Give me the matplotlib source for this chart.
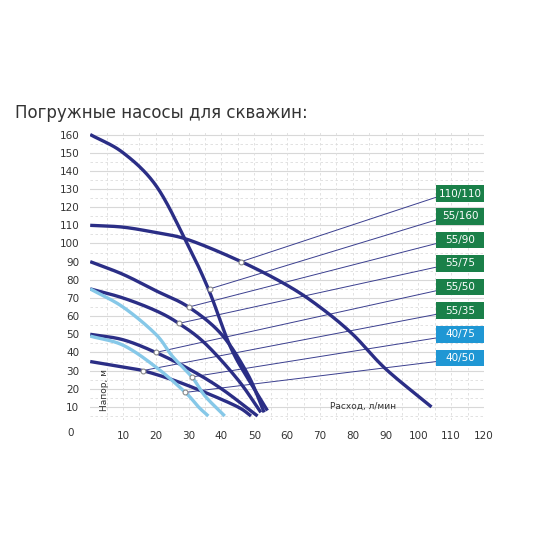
import numpy as np
import matplotlib.pyplot as plt
from matplotlib.patches import Rectangle

# pump curves: flow (l/min) -> head (m)
models = ["110/110", "55/160", "55/90", "55/75", "55/50", "55/35", "40/75", "40/50"]
flows = {
    "110/110": [0, 10, 20, 30, 46, 60, 70, 80, 90, 104],
    "55/160": [0, 10, 20, 29, 36, 43, 50, 54],
    "55/90": [0, 10, 20, 30, 40, 48, 53],
    "55/75": [0, 10, 20, 27, 35, 45, 52],
    "55/50": [0, 10, 20, 30, 40, 51],
    "55/35": [0, 10, 16, 25, 35, 45, 49],
    "40/75": [0, 10, 20, 25, 31, 35, 41],
    "40/50": [0, 10, 20, 29, 33, 36],
}
heads = {
    "110/110": [110, 109, 106, 102, 90, 77, 65, 50, 31, 10],
    "55/160": [160, 150, 132, 102, 75, 42, 20, 8],
    "55/90": [90, 83, 74, 65, 50, 28, 7],
    "55/75": [75, 70, 63, 56, 45, 25, 7],
    "55/50": [50, 47, 40, 31, 20, 5],
    "55/35": [35, 32, 30, 25, 18, 10, 5],
    "40/75": [75, 65, 50, 38, 26.5, 16, 5],
    "40/50": [49, 44, 32, 18, 10, 5],
}
# marked point on each curve and label y position
marks = {
    "110/110": (46, 90), "55/160": (36.4, 75), "55/90": (30, 65), "55/75": (27, 56),
    "55/50": (20, 40), "55/35": (16, 30), "40/75": (31, 26.5), "40/50": (29, 18),
}
label_y = [127.5, 115, 102, 89, 76, 63, 50, 37]
light = ["40/75", "40/50"]

dark_c = "#2b2e86"
light_c = "#86c8e8"
green = "#1a8049"
blue = "#1f97d4"


def catmull(x, y, n=30):
    p = np.column_stack([x, y]).astype(float)
    p = np.vstack([2 * p[0] - p[1], p, 2 * p[-1] - p[-2]])
    out = []
    t = np.linspace(0, 1, n)[:, None]
    for i in range(1, len(p) - 2):
        p0, p1, p2, p3 = p[i - 1], p[i], p[i + 1], p[i + 2]
        out.append(0.5 * (2 * p1 + (-p0 + p2) * t + (2 * p0 - 5 * p1 + 4 * p2 - p3) * t ** 2
                          + (-p0 + 3 * p1 - 3 * p2 + p3) * t ** 3))
    out = np.vstack(out)
    return out[:, 0], out[:, 1]


fig = plt.figure(figsize=(5.5, 5.5), dpi=100)
ax = fig.add_axes([0.164, 0.237, 0.716, 0.525])
ax.set_xlim(0, 120)
ax.set_ylim(3, 162)

for v in range(10, 161, 10):
    ax.axhline(v, color="#d8d8d8", lw=0.8, zorder=0)
for v in range(5, 161, 10):
    ax.axhline(v, color="#dddddd", lw=0.6, ls=(0, (3, 3)), zorder=0)
for v in range(5, 121, 5):
    ax.axvline(v, color="#dddddd", lw=0.6, ls=(0, (3, 3)), zorder=0)

for m in models:
    xs, ys = catmull(flows[m], heads[m])
    ax.plot(xs, ys, color=light_c if m in light else dark_c,
            lw=2.4, solid_capstyle="butt", zorder=3)

for m, ly in zip(models, label_y):
    mx, my = marks[m]
    ax.plot([mx, 105.5], [my, ly - 2], color="#3b3f8f", lw=0.7, zorder=2)
    ax.plot(mx, my, "o", ms=3.5, mfc="white", mec="#8a8a8a", mew=0.8, zorder=5)
    ax.add_patch(Rectangle((105.5, ly - 4.6), 14.5, 9.2, fc=blue if m in light else green,
                           ec="none", zorder=6))
    ax.text(112.75, ly, m, ha="center", va="center", color="white", fontsize=7.5, zorder=7)

ax.set_xticks(range(10, 121, 10))
ax.set_yticks(range(10, 161, 10))
ax.tick_params(length=0, labelsize=7.5, colors="#333333", pad=8)
for s in ax.spines.values():
    s.set_visible(False)
ax.text(-5, -1.5, "0", ha="right", va="top", fontsize=7.5, color="#333333")
ax.text(3, 8, "Напор, м", rotation=90, fontsize=6.5, color="#333333", va="bottom")
ax.text(73, 8, "Расход, л/мин", fontsize=6.5, color="#333333", va="bottom")

fig.text(0.027, 0.785, "Погружные насосы для скважин:", fontsize=12, color="#333333")

fig.savefig("out.png")
